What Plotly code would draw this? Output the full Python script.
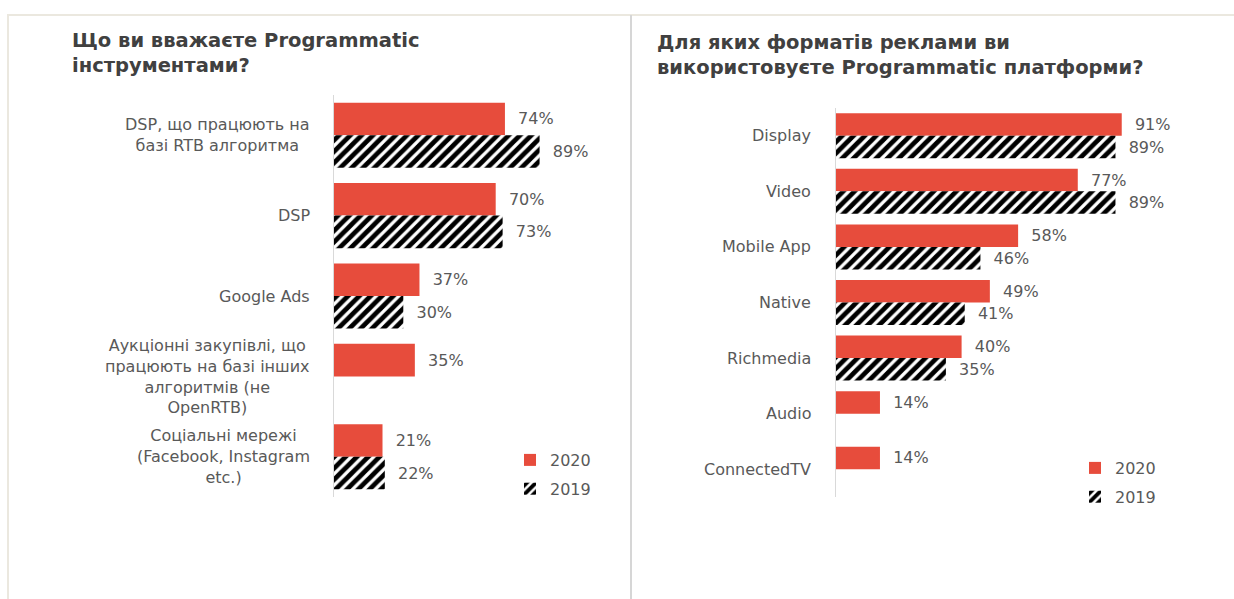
import plotly.graph_objects as go

# ---- data ----
left_title = "Що ви вважаєте Programmatic<br>інструментами?"
left_categories = [
    "DSP, що працюють на<br>базі RTB алгоритма",
    "DSP",
    "Google Ads",
    "Аукціонні закупівлі, що<br>працюють на базі інших<br>алгоритмів (не<br>OpenRTB)",
    "Соціальні мережі<br>(Facebook, Instagram<br>etc.)",
]
left_2020 = [74, 70, 37, 35, 21]
left_2019 = [89, 73, 30, None, 22]

right_title = "Для яких форматів реклами ви<br>використовуєте Programmatic платформи?"
right_categories = ["Display", "Video", "Mobile App", "Native", "Richmedia", "Audio", "ConnectedTV"]
right_2020 = [91, 77, 58, 49, 40, 14, 14]
right_2019 = [89, 89, 46, 41, 35, None, None]

series_names = ["2020", "2019"]

# ---- styles ----
W, H = 1234, 599
RED = "#e74c3c"
GRAY_TXT = "#595959"
TITLE_TXT = "#404040"
FONT = "DejaVu Sans"
LBL = 16

def px_x(p):
    return p / W

def px_y(p):
    return 1 - p / H

fig = go.Figure()

def fmt(v):
    return ["\u00a0\u00a0%d%%" % x if x is not None else "" for x in v]

def add_panel(cats, v20, v19, xa, ya, legend, grp):
    fig.add_trace(go.Bar(
        y=cats, x=v20, orientation="h", name=series_names[0],
        marker=dict(color=RED, line=dict(width=0)),
        text=fmt(v20), textposition="outside", cliponaxis=False,
        textfont=dict(color=GRAY_TXT, size=LBL, family=FONT),
        xaxis=xa, yaxis=ya, legend=legend, legendgroup=grp + "a",
        hoverinfo="skip",
    ))
    fig.add_trace(go.Bar(
        y=cats, x=v19, orientation="h", name=series_names[1],
        marker=dict(color="white", line=dict(width=0),
                    pattern=dict(shape="/", fgcolor="#000000", bgcolor="white",
                                 size=8, solidity=0.6, fgopacity=1)),
        text=fmt(v19), textposition="outside", cliponaxis=False,
        textfont=dict(color=GRAY_TXT, size=LBL, family=FONT),
        xaxis=xa, yaxis=ya, legend=legend, legendgroup=grp + "b",
        hoverinfo="skip",
    ))

add_panel(left_categories, left_2020, left_2019, "x", "y", "legend", "L")
add_panel(right_categories, right_2020, right_2019, "x2", "y2", "legend2", "R")

nL = len(left_categories)
nR = len(right_categories)

fig.update_layout(
    width=W, height=H,
    margin=dict(l=0, r=0, t=0, b=0),
    paper_bgcolor="white", plot_bgcolor="white",
    barmode="group", bargap=0.19, bargroupgap=0,
    font=dict(family=FONT, color=GRAY_TXT, size=LBL),
    xaxis=dict(domain=[px_x(334), px_x(565)], range=[0, 100], visible=False, fixedrange=True),
    yaxis=dict(domain=[px_y(497), px_y(95)], range=[nL - 0.5, -0.5], showticklabels=False,
               showline=True, linecolor="#d9d9d9", linewidth=1, showgrid=False,
               zeroline=False, ticks="", fixedrange=True),
    xaxis2=dict(domain=[px_x(836), px_x(1150)], range=[0, 100], visible=False, fixedrange=True,
                anchor="y2"),
    yaxis2=dict(domain=[px_y(497), px_y(108)], range=[nR - 0.5, -0.5], showticklabels=False,
                showline=True, linecolor="#d9d9d9", linewidth=1, showgrid=False,
                zeroline=False, ticks="", anchor="x2", fixedrange=True),
    legend=dict(x=px_x(510), y=px_y(443), xanchor="left", yanchor="top",
                font=dict(size=LBL, color=GRAY_TXT, family=FONT),
                traceorder="grouped", tracegroupgap=5, itemwidth=30,
                bgcolor="rgba(0,0,0,0)"),
    legend2=dict(x=px_x(1075), y=px_y(451), xanchor="left", yanchor="top",
                 font=dict(size=LBL, color=GRAY_TXT, family=FONT),
                 traceorder="grouped", tracegroupgap=5, itemwidth=30,
                 bgcolor="rgba(0,0,0,0)"),
    showlegend=True,
)

annotations = []
# titles
annotations.append(dict(text="<b>" + left_title + "</b>", xref="paper", yref="paper",
                        x=px_x(70), y=px_y(27), xanchor="left", yanchor="top", align="left",
                        showarrow=False, font=dict(size=19.5, color=TITLE_TXT, family=FONT)))
annotations.append(dict(text="<b>" + right_title + "</b>", xref="paper", yref="paper",
                        x=px_x(655), y=px_y(29), xanchor="left", yanchor="top", align="left",
                        showarrow=False, font=dict(size=19.5, color=TITLE_TXT, family=FONT)))
# category labels
for c in left_categories:
    annotations.append(dict(text=c, xref="paper", yref="y", x=px_x(312), y=c,
                            xanchor="right", yanchor="middle", align="center",
                            showarrow=False, font=dict(size=LBL, color=GRAY_TXT, family=FONT)))
for c in right_categories:
    annotations.append(dict(text=c, xref="paper", yref="y2", x=px_x(813), y=c,
                            xanchor="right", yanchor="middle", align="right",
                            showarrow=False, font=dict(size=LBL, color=GRAY_TXT, family=FONT)))
fig.update_layout(annotations=annotations)

# frame lines
shapes = [
    dict(type="line", xref="paper", yref="paper", x0=px_x(7), x1=1, y0=px_y(15), y1=px_y(15),
         line=dict(color="#ebe8df", width=2)),
    dict(type="line", xref="paper", yref="paper", x0=px_x(8), x1=px_x(8), y0=px_y(15), y1=0,
         line=dict(color="#ebe8df", width=2)),
    dict(type="line", xref="paper", yref="paper", x0=px_x(631), x1=px_x(631), y0=px_y(15), y1=0,
         line=dict(color="#d6d6d6", width=2)),
]
fig.update_layout(shapes=shapes)

fig.write_html("out.html", config=dict(displayModeBar=False))
